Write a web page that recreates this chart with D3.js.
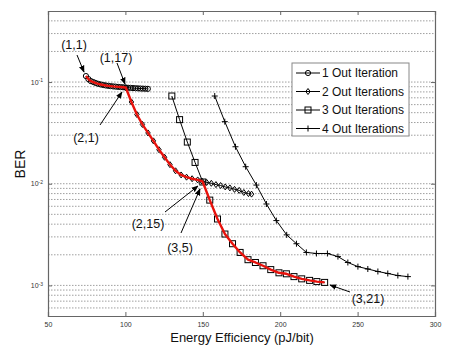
<!DOCTYPE html>
<html>
<head>
<meta charset="utf-8">
<script src="https://cdn.jsdelivr.net/npm/d3@7"></script>
<style>
  body { margin: 0; background: #fff; }
  svg text { font-family: Arial, "Liberation Sans", sans-serif; }
</style>
</head>
<body>
<div id="chart"></div>
<script>
// data
const xTicks = [50, 100, 150, 200, 250, 300];
const yMajor = [1e-3, 1e-2, 1e-1];

const s1x = [74.5, 76.1, 77.7, 79.3, 80.9, 82.5, 84.1, 85.7, 87.3, 88.9, 90.5, 92.1, 93.7, 95.3, 96.9, 98.5, 100.1,
  101.7, 103.3, 104.9, 106.5, 108.1, 109.7, 111.3, 112.9, 114.5];
const s1y = [0.1146, 0.107, 0.1022, 0.1, 0.0978, 0.096, 0.0947, 0.0935, 0.0926, 0.0918, 0.0912, 0.0906, 0.0902, 0.0897, 0.0893, 0.0889, 0.0883,
  0.0879, 0.0876, 0.0873, 0.087, 0.0867, 0.0864, 0.0862, 0.086, 0.0858];

const s2x = [100.3, 103.9, 107.4, 111, 114.6, 118.1, 121.7, 125.3, 128.8, 132.4, 136, 139.5, 143.1, 146.7, 149.5,
  152.5, 155.5, 158.5, 161.5, 164.5, 167.5, 170.5, 173.5, 176.5, 179.5, 181.5];
const s2y = [0.0880, 0.0637, 0.048, 0.0383, 0.0316, 0.0264, 0.0216, 0.0182, 0.0154, 0.0134, 0.0122, 0.0116, 0.0112, 0.0109, 0.0106,
  0.0103, 0.0101, 0.0098, 0.0096, 0.0093, 0.0091, 0.0088, 0.0086, 0.0082, 0.0080, 0.0079];

const s3x = [130, 135, 140, 145, 150, 154.5, 159.5, 164.3, 169.2, 174.1, 179.2, 184, 188.9, 193.9, 199.2, 204, 208.9, 213.9, 219, 223.7, 228.7];
const s3y = [0.0729, 0.0427, 0.0257, 0.0162, 0.0104, 0.0069, 0.0045, 0.0032, 0.00257, 0.00211, 0.00179, 0.00168, 0.00156, 0.00143, 0.00133, 0.0013, 0.00122, 0.00116, 0.00112, 0.00109, 0.00107];

const s4x = [157.7, 164.2, 171.1, 177.7, 184.6, 191.1, 197.5, 204.2, 210.5, 216.9, 223.4, 230.5, 237.3, 243.7, 250.2, 256.6, 263.1, 269.5, 276, 282.5];
const s4y = [0.0729, 0.0408, 0.0231, 0.0147, 0.0097, 0.00632, 0.00434, 0.00314, 0.00257, 0.00211, 0.00206, 0.00206, 0.00192, 0.00168, 0.00153, 0.00145, 0.00137, 0.00131, 0.00125, 0.00122];

const seriesNames = ['1 Out Iteration', '2 Out Iterations', '3 Out Iterations', '4 Out Iterations'];
const seriesMarks = ['circle', 'diamond', 'square', 'plus'];

// optimal path: (1,1)-(1,17), (2,1)-(2,15), (3,5)-(3,21)
const bestPath = [
  { sx: s1x, sy: s1y, from: 0, to: 16 },
  { sx: s2x, sy: s2y, from: 0, to: 14 },
  { sx: s3x, sy: s3y, from: 4, to: 20 }
];

const labels = ['(1,1)', '(1,17)', '(2,1)', '(2,15)', '(3,5)', '(3,21)'];
const labelAt = [[74, 44], [116, 57], [86, 137], [148, 223], [180, 247], [368, 298]];
const arrowFrom = [[77, 55], [117, 63], [100, 125], [165, 212], [181, 233], [350, 292]];
const arrowTo = [[84, 72], [125, 84], [122, 92], [198, 186], [200, 189], [330, 285]];

const W = 452, H = 346;
const m = { left: 48, right: 17, top: 11, bottom: 30 };

const svg = d3.select('#chart').append('svg')
  .attr('width', W).attr('height', H);

const x = d3.scaleLinear().domain([50, 300]).range([m.left, W - m.right]);
const y = d3.scaleLog().domain([5e-4, 0.5]).range([H - m.bottom, m.top]);

const minorVals = [];
[1e-4, 1e-3, 1e-2, 1e-1].forEach(d => {
  for (let k = 1; k < 10; k++) {
    const v = d * k;
    if (v > 5.5e-4 && v < 0.45) minorVals.push(v);
  }
});

// grid
svg.append('g').selectAll('line').data(minorVals).enter().append('line')
  .attr('x1', x(50)).attr('x2', x(300))
  .attr('y1', d => y(d)).attr('y2', d => y(d))
  .attr('stroke', '#777').attr('stroke-width', 0.7)
  .attr('stroke-dasharray', '1.5,1.5');

// axes
const gx = svg.append('g').attr('transform', `translate(0,${H - m.bottom})`)
  .call(d3.axisBottom(x).tickValues(xTicks).tickSize(-4).tickPadding(6));
const gxt = svg.append('g').attr('transform', `translate(0,${m.top})`)
  .call(d3.axisTop(x).tickValues(xTicks).tickSize(-4).tickFormat(''));
const gy = svg.append('g').attr('transform', `translate(${m.left},0)`)
  .call(d3.axisLeft(y).tickValues(yMajor).tickSize(-4).tickPadding(4).tickFormat(''));
const gyr = svg.append('g').attr('transform', `translate(${W - m.right},0)`)
  .call(d3.axisRight(y).tickValues(yMajor).tickSize(-4).tickFormat(''));

[gx, gxt, gy, gyr].forEach(g => {
  g.select('.domain').attr('stroke', '#666').attr('stroke-width', 1.2);
  g.selectAll('.tick line').attr('stroke', '#666');
});
gx.selectAll('.tick text').attr('font-size', 7).attr('fill', '#333');

// y tick labels with superscript
gy.selectAll('.tick').each(function (d) {
  const t = d3.select(this).append('text')
    .attr('x', -5).attr('dy', '0.32em')
    .attr('text-anchor', 'end').attr('font-size', 7).attr('fill', '#333');
  t.append('tspan').text('10');
  t.append('tspan').attr('dy', '-0.5em').attr('font-size', 5).text(Math.round(Math.log10(d)));
});

const line = d3.line().x(d => x(d[0])).y(d => y(d[1]));
const allSeries = [[s1x, s1y], [s2x, s2y], [s3x, s3y], [s4x, s4y]];

function drawMark(g, kind, cx, cy) {
  if (kind === 'circle') {
    g.append('circle').attr('cx', cx).attr('cy', cy).attr('r', 2.6)
      .attr('fill', 'none').attr('stroke', '#000').attr('stroke-width', 1);
  } else if (kind === 'diamond') {
    g.append('path').attr('d', `M${cx},${cy - 3}L${cx + 2.2},${cy}L${cx},${cy + 3}L${cx - 2.2},${cy}Z`)
      .attr('fill', 'none').attr('stroke', '#000').attr('stroke-width', 1);
  } else if (kind === 'square') {
    g.append('rect').attr('x', cx - 3).attr('y', cy - 3).attr('width', 6).attr('height', 6)
      .attr('fill', 'none').attr('stroke', '#000').attr('stroke-width', 1);
  } else {
    g.append('path').attr('d', `M${cx - 3},${cy}H${cx + 3}M${cx},${cy - 3}V${cy + 3}`)
      .attr('stroke', '#000').attr('stroke-width', 1);
  }
}

const plot = svg.append('g');
allSeries.forEach((s, i) => {
  const pts = s[0].map((v, k) => [v, s[1][k]]);
  plot.append('path').datum(pts).attr('d', line)
    .attr('fill', 'none').attr('stroke', '#000').attr('stroke-width', 1);
  const mg = plot.append('g');
  pts.forEach(p => drawMark(mg, seriesMarks[i], x(p[0]), y(p[1])));
});

// red optimal path on top
const redPts = [];
bestPath.forEach(b => {
  for (let k = b.from; k <= b.to; k++) redPts.push([b.sx[k], b.sy[k]]);
});
plot.append('path').datum(redPts).attr('d', line)
  .attr('fill', 'none').attr('stroke', '#e8120c').attr('stroke-width', 2.4)
  .attr('stroke-linejoin', 'round');

// legend
const lg = svg.append('g').attr('transform', 'translate(292,63)');
lg.append('rect').attr('width', 117).attr('height', 73)
  .attr('fill', '#fff').attr('stroke', '#888').attr('stroke-width', 1);
seriesNames.forEach((n, i) => {
  const ly = 10 + i * 18.5;
  lg.append('line').attr('x1', 4).attr('x2', 28).attr('y1', ly).attr('y2', ly)
    .attr('stroke', '#000').attr('stroke-width', 1);
  drawMark(lg, seriesMarks[i], 16, ly);
  lg.append('text').attr('x', 30).attr('y', ly).attr('dy', '0.36em')
    .attr('font-size', 12).attr('fill', '#111').text(n);
});

// annotations
svg.append('defs').append('marker').attr('id', 'arr')
  .attr('viewBox', '0 0 10 10').attr('refX', 9).attr('refY', 5)
  .attr('markerWidth', 7).attr('markerHeight', 7).attr('orient', 'auto')
  .append('path').attr('d', 'M0,1L10,5L0,9Z').attr('fill', '#000');

labels.forEach((t, i) => {
  svg.append('line')
    .attr('x1', arrowFrom[i][0]).attr('y1', arrowFrom[i][1])
    .attr('x2', arrowTo[i][0]).attr('y2', arrowTo[i][1])
    .attr('stroke', '#000').attr('stroke-width', 1).attr('marker-end', 'url(#arr)');
  svg.append('text').attr('x', labelAt[i][0]).attr('y', labelAt[i][1])
    .attr('text-anchor', 'middle').attr('dy', '0.36em')
    .attr('font-size', 12.5).attr('fill', '#111').text(t);
});

// axis titles
svg.append('text').attr('x', 242).attr('y', 337).attr('dy', '0.36em')
  .attr('text-anchor', 'middle').attr('font-size', 13).attr('fill', '#111')
  .text('Energy Efficiency (pJ/bit)');
svg.append('text').attr('transform', 'translate(20,164) rotate(-90)')
  .attr('text-anchor', 'middle').attr('dy', '0.36em')
  .attr('font-size', 14).attr('fill', '#111').text('BER');
</script>
</body>
</html>
